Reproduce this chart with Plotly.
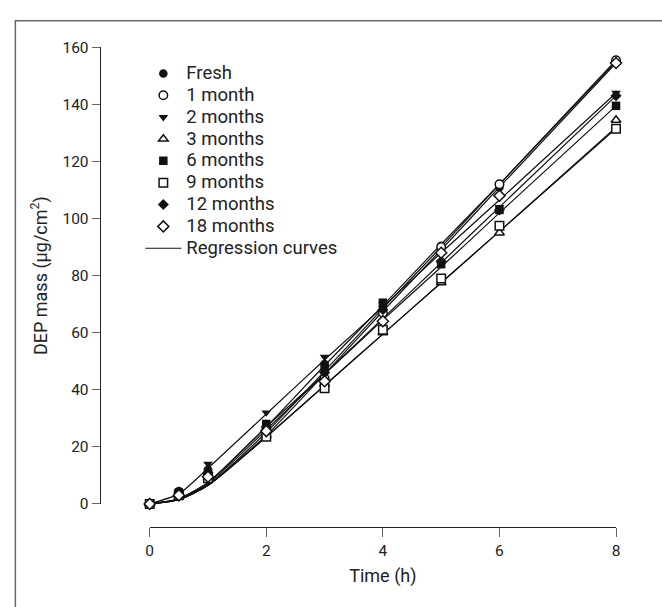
import plotly.graph_objects as go

# measurement times (h)
times = [0, 0.5, 1, 2, 3, 4, 5, 6, 8]

# measured DEP mass (µg/cm²) per storage condition
fresh = [0, 4.5, 12, 28, 49, 69, 90.5, 111, 155]
month1 = [0, 3, 10, 26, 44, 67, 90, 112, 155.5]
month2 = [0, 4.5, 14, 32, 51.5, 70, 84, 104, 144]
month3 = [0, 3, 9, 24, 42, 60, 77.5, 95, 134.5]
month6 = [0, 4, 11, 28, 48, 70.5, 84, 103, 139.5]
month9 = [0, 3, 9, 23.5, 40.5, 61, 79, 97.5, 131.5]
month12 = [0, 4, 11, 27, 46, 68, 85, 103, 143]
month18 = [0, 3, 9.5, 25.5, 43, 64, 88, 108, 154.5]

# regression curves, at the same times
fresh_fit = [0, 1.8, 7.5, 27, 48.5, 69.5, 91, 112, 155]
month1_fit = [0, 1.5, 6.5, 25, 46.5, 68.5, 90, 112, 155.5]
month2_fit = [0, 3.5, 12.5, 31.5, 50.5, 69, 88, 106.5, 144]
month3_fit = [0, 1.5, 6.5, 23.5, 41.5, 59.5, 77.5, 95.5, 132]
month6_fit = [0, 1.8, 7.5, 27, 45.5, 64.5, 83, 102, 139.5]
month9_fit = [0, 1.5, 6.5, 23.5, 41.5, 59.5, 77.5, 95.5, 131.5]
month12_fit = [0, 1.7, 7, 26, 45.5, 65, 84.5, 104, 143]
month18_fit = [0, 1.5, 6.5, 24, 45.5, 67.5, 89, 111, 154.5]

series_names = ["Fresh", "1 month", "2 months", "3 months", "6 months",
                "9 months", "12 months", "18 months"]
series_values = [fresh, month1, month2, month3, month6, month9, month12, month18]
fit_values = [fresh_fit, month1_fit, month2_fit, month3_fit, month6_fit,
              month9_fit, month12_fit, month18_fit]
symbols = ["circle", "circle-open", "triangle-down", "triangle-up-open",
           "square", "square-open", "diamond", "diamond-open"]

x_ticks = [0, 2, 4, 6, 8]
y_ticks = [0, 20, 40, 60, 80, 100, 120, 140, 160]

FONT = "Roboto, Open Sans, sans-serif"
INK = "#222222"
LEG_PX = 18.5

fig = go.Figure()

for vals in fit_values:
    fig.add_trace(go.Scatter(
        x=times, y=vals, mode="lines",
        line=dict(color="#111111", width=1.2, shape="spline", smoothing=0.6),
        showlegend=False, hoverinfo="skip", cliponaxis=False))

for name, vals, sym in zip(series_names, series_values, symbols):
    is_open = sym.endswith("open")
    fig.add_trace(go.Scatter(
        x=times, y=vals, mode="markers",
        name=f"<span style='font-size:{LEG_PX}px'>{name}</span>",
        marker=dict(symbol=sym.replace("-open", ""), size=8.5,
                    color="white" if is_open else "#111111",
                    line=dict(color="#111111", width=1.5 if is_open else 0)),
        cliponaxis=False))

fig.add_trace(go.Scatter(x=[None], y=[None], mode="lines",
                         name=f"<span style='font-size:{LEG_PX}px'>Regression curves</span>",
                         line=dict(color="#111111", width=1.2)))

W, H = 662, 607
fig.update_layout(
    width=W, height=H,
    margin=dict(l=0, r=0, t=0, b=0),
    paper_bgcolor="white", plot_bgcolor="white",
    font=dict(family=FONT, size=15, color=INK),
    showlegend=True,
    legend=dict(x=138 / W, y=1 - 50 / H, xanchor="left", yanchor="top",
                bgcolor="rgba(0,0,0,0)", font=dict(size=14.5, color=INK),
                tracegroupgap=0, itemwidth=36),
    xaxis=dict(domain=[147.5 / W, 619.5 / W], range=[0, 8], anchor="free",
               position=(H - 534) / H, tickvals=x_ticks, showline=True,
               linecolor="#222222", linewidth=1.3, ticks="outside", ticklen=9,
               tickcolor="#666666", showgrid=False, zeroline=False,
               tickfont=dict(size=15.5),
               title=dict(text="Time (h)", font=dict(size=18), standoff=10)),
    yaxis=dict(domain=[(H - 510) / H, (H - 39.5) / H], range=[0, 160], anchor="free",
               position=97 / W, tickvals=y_ticks, showline=True,
               linecolor="#222222", linewidth=1.3, ticks="outside", ticklen=8,
               tickcolor="#666666", showgrid=False, zeroline=False,
               tickfont=dict(size=15.5),
               title=dict(text="DEP mass (µg/cm<sup>2</sup>)", font=dict(size=18), standoff=9)),
    shapes=[dict(type="rect", xref="paper", yref="paper",
                 x0=11.5 / W, x1=1.05, y0=-0.05, y1=1 - 12 / H,
                 line=dict(color="#666666", width=1.5), fillcolor="rgba(0,0,0,0)")],
)

fig.write_html("out.html", config={"displayModeBar": False},
               post_script="document.body.style.margin='0';")
